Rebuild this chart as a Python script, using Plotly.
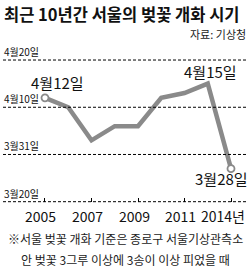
import plotly.graph_objects as go

# Data (days relative to 3월31일; 4월10일 = 10, 3월28일 = -3)
years = ["2005", "2006", "2007", "2008", "2009", "2010", "2011", "2012", "2014"]
bloom = [12, 10, 3, 6, 6, 12, 13, 15, -3]
tick_idx = [0, 2, 4, 6, 8]
tick_text = ["2005", "2007", "2009", "2011", "2014년"]
grid_vals = [20, 10, 0, -10]
grid_text = ["4월20일", "4월10일", "3월31일", "3월20일"]
callouts = [(0, "4월12일"), (7, "4월15일"), (8, "3월28일")]

FONT = "Liberation Sans Narrow, Noto Sans CJK KR, sans-serif"
KFONT = "Noto Sans CJK KR, sans-serif"
W, H = 250, 271
L, R, T, B = 10, 10, 45, 59
plot_h = H - T - B
YR = [-12.18, 23.18]
XR = [-1.505, 8.387]


def px_x(p):
    return (p - L) / (W - L - R)


def px_y(p):
    return (H - B - p) / plot_h


def val_y(v):
    return (v - YR[0]) / (YR[1] - YR[0])


fig = go.Figure()
fig.add_trace(go.Scatter(x=years, y=bloom, mode="lines",
                         line=dict(color="#8a8a8a", width=4.5),
                         hoverinfo="skip", showlegend=False))
fig.add_trace(go.Scatter(x=[years[0], years[-1]], y=[bloom[0], bloom[-1]],
                         mode="markers",
                         marker=dict(size=7, color="white",
                                     line=dict(color="#8a8a8a", width=1.8)),
                         hoverinfo="skip", showlegend=False))

shapes = []
annotations = []
for v, t in zip(grid_vals, grid_text):
    shapes.append(dict(type="line", xref="paper", yref="y",
                       x0=px_x(3), x1=px_x(247), y0=v, y1=v,
                       line=dict(color="black", width=1, dash="3px,2px")))
    annotations.append(dict(xref="paper", yref="y", x=px_x(2), y=v,
                            xanchor="left", yanchor="bottom", yshift=-1,
                            text=t, showarrow=False,
                            font=dict(family=FONT, size=10, color="#111")))

# x tick labels (placed under the 3월20일 baseline, slightly left of the ticks)
for k, (i, t) in enumerate(zip(tick_idx, tick_text)):
    dx = -8 if k == len(tick_idx) - 1 else -4
    annotations.append(dict(x=i, y=grid_vals[-1], xref="x", yref="y",
                            xanchor="center", yanchor="middle",
                            xshift=dx, yshift=-14, text=t, showarrow=False,
                            font=dict(family=FONT, size=14, color="#111")))

shifts = {0: (13, 15), 7: (3, 12), 8: (-10, -10)}
for i, t in callouts:
    dx, dy = shifts[i]
    annotations.append(dict(x=i, y=bloom[i], xref="x", yref="y",
                            text=t, showarrow=False, xshift=dx, yshift=dy,
                            font=dict(family=FONT, size=15, color="#111")))

annotations.append(dict(xref="paper", yref="paper", x=px_x(2), y=px_y(14),
                        xanchor="left", yanchor="middle",
                        text="<b>최근 10년간 서울의 벚꽃 개화 시기</b>",
                        showarrow=False,
                        font=dict(family=KFONT, size=16.5, color="#111")))
annotations.append(dict(xref="paper", yref="paper", x=px_x(248), y=px_y(34),
                        xanchor="right", yanchor="middle",
                        text="자료: 기상청", showarrow=False,
                        font=dict(family=KFONT, size=11, color="#222")))
annotations.append(dict(xref="paper", yref="paper", x=px_x(125), y=px_y(238.5),
                        xanchor="center", yanchor="middle",
                        text="※서울 벚꽃 개화 기준은 종로구 서울기상관측소",
                        showarrow=False,
                        font=dict(family=KFONT, size=12, color="#222")))
annotations.append(dict(xref="paper", yref="paper", x=px_x(125), y=px_y(259.5),
                        xanchor="center", yanchor="middle",
                        text="안 벚꽃 3그루 이상에 3송이 이상 피었을 때",
                        showarrow=False,
                        font=dict(family=KFONT, size=12, color="#222")))

fig.update_layout(
    width=W, height=H,
    margin=dict(l=L, r=R, t=T, b=B, autoexpand=False),
    paper_bgcolor="white", plot_bgcolor="white",
    shapes=shapes, annotations=annotations,
    xaxis=dict(type="category", range=XR, showgrid=False, zeroline=False,
               showline=False, anchor="free", position=val_y(-10),
               automargin=False, showticklabels=False,
               ticks="inside", ticklen=4, tickwidth=1, tickcolor="black",
               tickmode="array", tickvals=tick_idx),
    yaxis=dict(range=YR, showgrid=False, zeroline=False, showline=False,
               showticklabels=False, ticks="", automargin=False),
)

fig.write_html("out.html")
